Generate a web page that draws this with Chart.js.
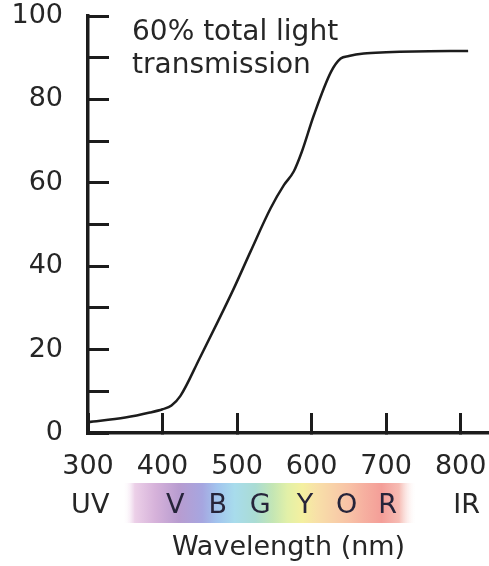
<!DOCTYPE html>
<html>
<head>
<meta charset="utf-8">
<script src="https://cdn.jsdelivr.net/npm/chart.js@4/dist/chart.umd.min.js"></script>
<style>
  html, body { margin: 0; padding: 0; background: #fff; }
  #wrap { width: 489px; height: 566px; }
</style>
</head>
<body>
<div id="wrap"><canvas id="myChart" width="489" height="566"></canvas></div>
<script>
// wavelength (nm) vs light transmission (%)
const wavelengths = [300, 350, 383, 400, 412, 424, 450, 475, 496, 518, 545, 563, 576, 587, 603, 626, 639, 650, 670, 700, 738, 810];
const transmission = [2.6, 3.7, 4.9, 5.7, 6.6, 8.9, 18, 27, 34.8, 43.5, 53.9, 59.5, 62.7, 67.5, 76.2, 86.6, 89.8, 90.4, 91, 91.3, 91.5, 91.6];
const xTickValues = [300, 400, 500, 600, 700, 800];
const yLabelValues = [0, 20, 40, 60, 80, 100];
const bandLetters = ['V', 'B', 'G', 'Y', 'O', 'R'];
const bandLetterNm = [417, 474, 531, 591, 647, 702];
const endLabels = ['UV', 'IR'];
const endLabelNm = [303, 808];
const bandRange = [347, 741];
const noteLines = ['60% total light', 'transmission'];

const FONT = '"DejaVu Sans", sans-serif';
const TEXT = '#262626';
const INK = '#1c1c1c';

const spectrumPlugin = {
    id: 'spectrum',
    afterDraw(chart) {
        const ctx = chart.ctx;
        const x = chart.scales.x;
        const bottom = chart.chartArea.bottom;

        // colour band under the wavelength ticks
        const x0 = x.getPixelForValue(bandRange[0]);
        const x1 = x.getPixelForValue(bandRange[1]);
        const grad = ctx.createLinearGradient(x0, 0, x1, 0);
        grad.addColorStop(0.00, 'rgba(255,255,255,0)');
        grad.addColorStop(0.04, '#ecd0e8');
        grad.addColorStop(0.11, '#d6b2da');
        grad.addColorStop(0.19, '#b89cd0');
        grad.addColorStop(0.27, '#a6a6e0');
        grad.addColorStop(0.32, '#a2c4ee');
        grad.addColorStop(0.38, '#a8dcec');
        grad.addColorStop(0.45, '#aadcd4');
        grad.addColorStop(0.51, '#c4e6b4');
        grad.addColorStop(0.56, '#e2f0a8');
        grad.addColorStop(0.61, '#f4f0a0');
        grad.addColorStop(0.66, '#f8e0a8');
        grad.addColorStop(0.72, '#f8d0a8');
        grad.addColorStop(0.77, '#f8c2a6');
        grad.addColorStop(0.82, '#f6b0a0');
        grad.addColorStop(0.88, '#f49e98');
        grad.addColorStop(0.94, '#f6bcb4');
        grad.addColorStop(1.00, 'rgba(255,255,255,0)');
        ctx.save();
        ctx.fillStyle = grad;
        ctx.fillRect(x0, bottom + 50, x1 - x0, 40);

        ctx.font = '27px ' + FONT;
        ctx.textAlign = 'center';
        ctx.textBaseline = 'alphabetic';
        ctx.fillStyle = '#26243a';
        bandLetters.forEach((l, i) => {
            ctx.fillText(l, x.getPixelForValue(bandLetterNm[i]), bottom + 80);
        });
        ctx.fillStyle = TEXT;
        endLabels.forEach((l, i) => {
            ctx.fillText(l, x.getPixelForValue(endLabelNm[i]), bottom + 80);
        });

        // note in the upper left
        ctx.font = '28px ' + FONT;
        ctx.textAlign = 'left';
        noteLines.forEach((line, i) => {
            ctx.fillText(line, chart.chartArea.left + 44, 40 + i * 33);
        });
        ctx.restore();
    }
};

new Chart(document.getElementById('myChart'), {
    type: 'line',
    data: {
        datasets: [{
            data: wavelengths.map((w, i) => ({ x: w, y: transmission[i] })),
            borderColor: INK,
            borderWidth: 2.5,
            pointRadius: 0,
            cubicInterpolationMode: 'monotone',
            fill: false
        }]
    },
    options: {
        responsive: false,
        animation: false,
        layout: { padding: { top: 16, right: 0, bottom: 0, left: 0 } },
        plugins: {
            legend: { display: false },
            tooltip: { enabled: false }
        },
        scales: {
            x: {
                type: 'linear',
                min: 300,
                max: 838,
                afterBuildTicks: scale => {
                    scale.ticks = xTickValues.map(v => ({ value: v }));
                },
                afterFit: scale => {
                    scale.height = 133;
                    scale.paddingLeft = 0;
                    scale.paddingRight = 0;
                },
                border: { display: true, color: INK, width: 3.5 },
                grid: {
                    display: true,
                    drawOnChartArea: false,
                    drawTicks: true,
                    tickLength: -20,
                    tickWidth: 3,
                    tickColor: INK
                },
                ticks: {
                    padding: 38,
                    maxRotation: 0,
                    autoSkip: false,
                    color: TEXT,
                    font: { family: FONT, size: 27 }
                },
                title: {
                    display: true,
                    text: 'Wavelength (nm)',
                    color: TEXT,
                    font: { family: FONT, size: 27 },
                    padding: { top: 0, bottom: 2 }
                }
            },
            y: {
                min: 0,
                max: 100,
                afterFit: scale => {
                    scale.width = 88;
                    scale.paddingTop = 0;
                    scale.paddingBottom = 0;
                },
                border: { display: true, color: INK, width: 3.5 },
                grid: {
                    display: true,
                    drawOnChartArea: false,
                    drawTicks: true,
                    tickLength: -21,
                    tickWidth: 3,
                    tickColor: INK
                },
                ticks: {
                    stepSize: 10,
                    padding: 46,
                    color: TEXT,
                    font: { family: FONT, size: 27 },
                    callback: v => yLabelValues.includes(v) ? v : ''
                }
            }
        }
    },
    plugins: [spectrumPlugin]
});
</script>
</body>
</html>
